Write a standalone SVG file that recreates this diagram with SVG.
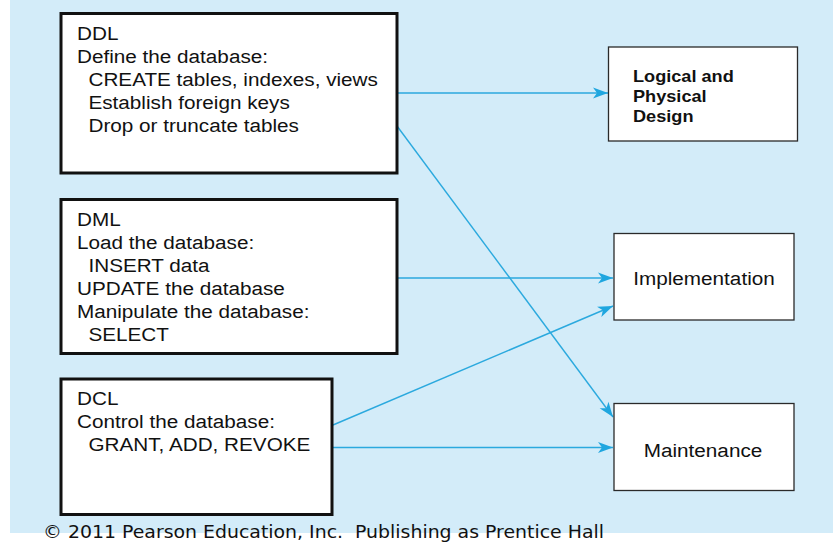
<svg xmlns="http://www.w3.org/2000/svg" width="833" height="543" viewBox="0 0 833 543">
  <style>
    .bg { fill: #D3ECF9; }
    .big { fill: #FFFFFF; stroke: #111111; stroke-width: 3; }
    .small { fill: #FFFFFF; stroke: #2A2A2A; stroke-width: 1.3; }
    .t { font-family: "Liberation Sans", Arial, Helvetica, sans-serif; font-size: 19px; fill: #111111; }
    .b { font-family: "Liberation Sans", Arial, Helvetica, sans-serif; font-size: 16.5px; font-weight: bold; fill: #111111; }
    .conn { stroke: #2BA9DE; stroke-width: 1.4; fill: none; marker-end: url(#arr); }
    .copy { font-family: "DejaVu Sans", Tahoma, Verdana, sans-serif; font-size: 17.5px; fill: #111111; white-space: pre; }
  </style>
  <defs>
    <marker id="arr" markerUnits="userSpaceOnUse" markerWidth="18" markerHeight="12" viewBox="-1 -6 18 12" refX="15" refY="0" orient="auto">
      <path d="M0,-5.5 L15,0 L0,5.5 L4,0 z" fill="#1FA6DF"/>
    </marker>
  </defs>

  <rect class="bg" x="10" y="0" width="823" height="533"/>

  <g id="connectors">
    <path class="conn" d="M398,93 H608"/>
    <path class="conn" d="M397,126 L613,417"/>
    <path class="conn" d="M397,278 H613"/>
    <path class="conn" d="M333,425 L613,306"/>
    <path class="conn" d="M333,447.5 H613"/>
  </g>

  <g id="ddl">
    <rect class="big" x="61" y="13.5" width="336" height="159.5"/>
    <g transform="translate(77 0) scale(1.09 1)">
      <text class="t" x="0" y="40">DDL</text>
      <text class="t" x="0" y="63">Define the database:</text>
      <text class="t" x="10.5" y="86">CREATE tables, indexes, views</text>
      <text class="t" x="10.5" y="109">Establish foreign keys</text>
      <text class="t" x="10.5" y="132">Drop or truncate tables</text>
    </g>
  </g>

  <g id="dml">
    <rect class="big" x="61" y="199.5" width="336" height="154"/>
    <g transform="translate(77 0) scale(1.09 1)">
      <text class="t" x="0" y="226">DML</text>
      <text class="t" x="0" y="249">Load the database:</text>
      <text class="t" x="10.5" y="272">INSERT data</text>
      <text class="t" x="0" y="295">UPDATE the database</text>
      <text class="t" x="0" y="318">Manipulate the database:</text>
      <text class="t" x="10.5" y="341">SELECT</text>
    </g>
  </g>

  <g id="dcl">
    <rect class="big" x="61" y="379" width="271" height="135.5"/>
    <g transform="translate(77 0) scale(1.09 1)">
      <text class="t" x="0" y="405">DCL</text>
      <text class="t" x="0" y="428">Control the database:</text>
      <text class="t" x="10.5" y="451">GRANT, ADD, REVOKE</text>
    </g>
  </g>

  <g id="design">
    <rect class="small" x="608.5" y="47" width="189" height="94"/>
    <g transform="translate(633 0) scale(1.1 1)">
      <text class="b" x="0" y="82">Logical and</text>
      <text class="b" x="0" y="102">Physical</text>
      <text class="b" x="0" y="122">Design</text>
    </g>
  </g>

  <g id="implementation">
    <rect class="small" x="614" y="233.5" width="180" height="86.5"/>
    <g transform="translate(704 0) scale(1.09 1)">
      <text class="t" x="0" y="285" text-anchor="middle">Implementation</text>
    </g>
  </g>

  <g id="maintenance">
    <rect class="small" x="614" y="403.5" width="180" height="87"/>
    <g transform="translate(703 0) scale(1.09 1)">
      <text class="t" x="0" y="457" text-anchor="middle">Maintenance</text>
    </g>
  </g>

  <text class="copy" x="43" y="538" textLength="561" lengthAdjust="spacingAndGlyphs" xml:space="preserve">© 2011 Pearson Education, Inc.  Publishing as Prentice Hall</text>
</svg>
